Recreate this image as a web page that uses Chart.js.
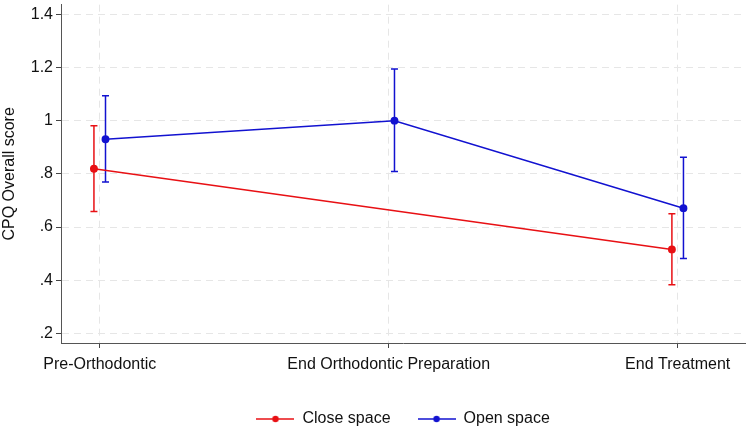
<!DOCTYPE html>
<html>
<head>
<meta charset="utf-8">
<script src="https://cdn.jsdelivr.net/npm/chart.js@4.4.0/dist/chart.umd.min.js"></script>
<style>
  html, body { margin: 0; padding: 0; background: #fff; }
  #wrap { width: 750px; height: 428px; }
</style>
</head>
<body>
<div id="wrap"><canvas id="c" width="750" height="428"></canvas></div>
<script>
const categories = ["Pre-Orthodontic", "End Orthodontic Preparation", "End Treatment"];
const closeMean = [0.819, null, 0.516];
const closeLo   = [0.658, null, 0.383];
const closeHi   = [0.981, null, 0.650];
const openMean  = [0.930, 1.000, 0.671];
const openLo    = [0.769, 0.809, 0.482];
const openHi    = [1.094, 1.194, 0.862];
const yTicks = [0.2, 0.4, 0.6, 0.8, 1.0, 1.2, 1.4];
const yTickLabels = [".2", ".4", ".6", ".8", "1", "1.2", "1.4"];

const RED = "rgb(232,16,20)";
const BLUE = "rgb(18,18,208)";
const FONT = "'Liberation Sans', Arial, Helvetica, sans-serif";
const FS = 16;
const OFFSET = 0.02;

function toPoints(vals, off) {
  return vals.map((v, i) => ({ x: i + 1 + off, y: v }));
}

function legendIcon(color) {
  const c = document.createElement("canvas");
  c.width = 38; c.height = 8;
  const g = c.getContext("2d");
  g.strokeStyle = color; g.lineWidth = 1.5;
  g.beginPath(); g.moveTo(0, 4); g.lineTo(38, 4); g.stroke();
  g.fillStyle = color;
  g.beginPath(); g.arc(19, 4, 3.2, 0, Math.PI * 2); g.fill();
  return c;
}

const errorBars = {
  id: "errorBars",
  beforeDatasetsDraw(chart) {
    const ctx = chart.ctx;
    const xs = chart.scales.x, ys = chart.scales.y;
    chart.data.datasets.forEach((ds) => {
      const lo = ds.errLo, hi = ds.errHi;
      ctx.save();
      ctx.strokeStyle = ds.borderColor;
      ctx.lineWidth = 1.5;
      ds.data.forEach((p, i) => {
        if (p.y == null) return;
        const x = xs.getPixelForValue(p.x);
        const y1 = ys.getPixelForValue(lo[i]);
        const y2 = ys.getPixelForValue(hi[i]);
        ctx.beginPath();
        ctx.moveTo(x, y1); ctx.lineTo(x, y2);
        ctx.moveTo(x - 3.5, y1); ctx.lineTo(x + 3.5, y1);
        ctx.moveTo(x - 3.5, y2); ctx.lineTo(x + 3.5, y2);
        ctx.stroke();
      });
      ctx.restore();
    });
  }
};

new Chart(document.getElementById("c"), {
  type: "line",
  data: {
    datasets: [
      {
        label: "Close space",
        data: toPoints(closeMean, -OFFSET),
        errLo: closeLo, errHi: closeHi,
        borderColor: RED, backgroundColor: RED,
        borderWidth: 1.5, pointRadius: 3.2, pointHoverRadius: 3.2,
        spanGaps: true, tension: 0,
        pointStyle: "circle"
      },
      {
        label: "Open space",
        data: toPoints(openMean, OFFSET),
        errLo: openLo, errHi: openHi,
        borderColor: BLUE, backgroundColor: BLUE,
        borderWidth: 1.5, pointRadius: 3.2, pointHoverRadius: 3.2,
        spanGaps: true, tension: 0,
        pointStyle: "circle"
      }
    ]
  },
  options: {
    responsive: false,
    animation: false,
    layout: { padding: { top: 2, right: 2, left: 0, bottom: -9 } },
    plugins: {
      tooltip: { enabled: false },
      legend: {
        position: "bottom",
        fullSize: false,
        labels: {
          usePointStyle: true,
          pointStyleWidth: 38,
          boxHeight: 8,
          padding: 27,
          color: "#111",
          font: { family: FONT, size: FS },
          generateLabels(chart) {
            return chart.data.datasets.map((ds, i) => ({
              text: ds.label,
              pointStyle: legendIcon(ds.borderColor),
              fillStyle: ds.borderColor,
              strokeStyle: ds.borderColor,
              lineWidth: 0,
              hidden: false,
              datasetIndex: i,
              fontColor: "#111"
            }));
          }
        }
      }
    },
    scales: {
      x: {
        type: "linear",
        min: 0.866, max: 3.234,
        afterBuildTicks(s) { s.ticks = categories.map((c, i) => ({ value: i + 1 })); },
        afterFit(s) { s.height = 41; },
        ticks: {
          color: "#111",
          font: { family: FONT, size: FS },
          padding: 7,
          maxRotation: 0,
          autoSkip: false,
          callback(v) { return categories[Math.round(v) - 1]; }
        },
        grid: {
          color: "#e6e6e6",
          lineWidth: 1,
          drawTicks: true,
          tickLength: 5,
          tickColor: "#444",
          tickWidth: 1
        },
        border: { display: true, color: "#555", width: 1, dash: [7, 5] }
      },
      y: {
        type: "linear",
        min: 0.164, max: 1.436,
        afterBuildTicks(s) { s.ticks = yTicks.map(v => ({ value: v })); },
        afterFit(s) { s.width = 61; s.paddingTop = 0; s.paddingBottom = 0; },
        ticks: {
          color: "#111",
          font: { family: FONT, size: FS },
          padding: 3,
          autoSkip: false,
          callback(v) {
            const idx = yTicks.findIndex(t => Math.abs(t - v) < 1e-6);
            return idx >= 0 ? yTickLabels[idx] : "";
          }
        },
        title: {
          display: true,
          text: "CPQ Overall score",
          color: "#111",
          font: { family: FONT, size: FS },
          padding: { top: 0, bottom: 2 }
        },
        grid: {
          color: "#e6e6e6",
          lineWidth: 1,
          drawTicks: true,
          tickLength: 5,
          tickColor: "#444",
          tickWidth: 1
        },
        border: { display: true, color: "#555", width: 1, dash: [7, 5] }
      }
    }
  },
  plugins: [errorBars]
});
</script>
</body>
</html>
